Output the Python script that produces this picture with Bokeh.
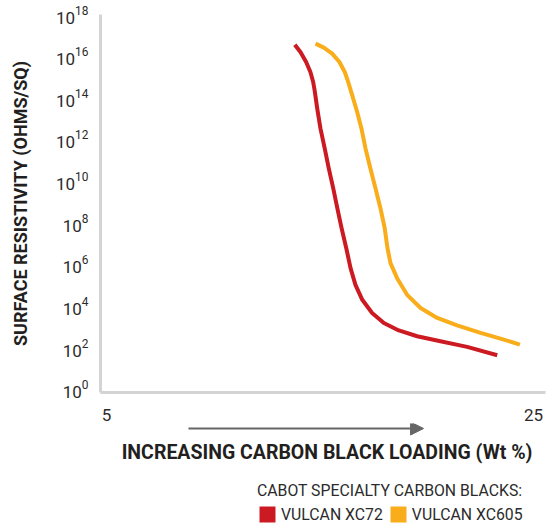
from bokeh.plotting import figure
from bokeh.layouts import column
from bokeh.models import (FixedTicker, Range1d, Arrow, NormalHead, Legend, LegendItem)
from bokeh.core.properties import value
from bokeh.embed import file_html
from bokeh.resources import INLINE

# ---- data ----
xc72_loading = [13.82, 14.09, 14.35, 14.55, 14.68, 14.76, 14.87, 15.02, 15.22, 15.41,
                15.62, 15.81, 16.01, 16.23, 16.43, 16.66, 16.98, 17.44, 17.99, 18.69,
                19.55, 20.64, 21.89, 23.30]
xc72_log_res = [16.55, 16.19, 15.72, 15.24, 14.76, 14.28, 13.48, 12.53, 11.57, 10.61,
                9.65, 8.70, 7.74, 6.78, 5.82, 5.02, 4.30, 3.67, 3.19, 2.83,
                2.55, 2.31, 2.04, 1.64]
xc605_loading = [14.79, 15.18, 15.57, 15.91, 16.16, 16.32, 16.51, 16.74, 16.94, 17.13,
                 17.36, 17.60, 17.83, 18.03, 18.16, 18.30, 18.61, 19.08, 19.71, 20.49,
                 21.42, 22.52, 23.45, 24.36]
xc605_log_res = [16.60, 16.41, 16.12, 15.72, 15.24, 14.76, 14.12, 13.32, 12.53, 11.57,
                 10.61, 9.65, 8.70, 7.74, 6.78, 6.06, 5.34, 4.54, 3.91, 3.43,
                 3.07, 2.71, 2.44, 2.15]
x_ticks = [5, 25]
y_tick_exponents = [0, 2, 4, 6, 8, 10, 12, 14, 16, 18]
series_names = ["VULCAN XC72", "VULCAN XC605"]
series_colors = ["#CC1A22", "#F9AD1A"]
x_title = "INCREASING CARBON BLACK LOADING (Wt %)"
y_title = "SURFACE RESISTIVITY (OHMS/SQ)"
legend_title = "CABOT SPECIALTY CARBON BLACKS:"

xc72_res = [10 ** v for v in xc72_log_res]
xc605_res = [10 ** v for v in xc605_log_res]

TEXT = "#2b2b2b"
DARK = "#231f20"
AXIS = "#d4d4d4"
ARROW = "#666666"
NAN = float("nan")

xr = Range1d(4.72, 25.56)

# ---- main chart ----
p = figure(width=559, height=423, y_axis_type="log",
           x_range=xr, y_range=Range1d(10 ** -0.15, 10 ** 18),
           output_backend="svg", toolbar_location=None,
           min_border_left=100, min_border_right=14, min_border_top=14, min_border_bottom=30)
p.grid.visible = False
p.outline_line_color = None

p.line(xc72_loading, xc72_res, line_color=series_colors[0], line_width=4, line_join="round")
p.line(xc605_loading, xc605_res, line_color=series_colors[1], line_width=4, line_join="round")

xa = p.xaxis[0]
xa.ticker = FixedTicker(ticks=x_ticks)
xa.axis_line_color = AXIS
xa.axis_line_width = 3
xa.major_tick_line_color = None
xa.minor_tick_line_color = None
xa.major_label_text_font = "Roboto"
xa.major_label_text_font_size = "17px"
xa.major_label_text_color = TEXT
xa.major_label_standoff = 10

ya = p.yaxis[0]
ya.ticker = FixedTicker(ticks=[10 ** e for e in y_tick_exponents])
ya.axis_line_color = AXIS
ya.axis_line_width = 3
ya.major_tick_line_color = None
ya.minor_tick_line_color = None
ya.major_label_text_font = "Roboto"
ya.major_label_text_font_size = "17px"
ya.major_label_text_color = TEXT
ya.major_label_standoff = 6
ya.axis_label = y_title
ya.axis_label_text_font = "Roboto"
ya.axis_label_text_font_style = "bold"
ya.axis_label_text_font_size = "18px"
ya.axis_label_text_color = DARK
ya.axis_label_standoff = 22

# ---- lower band: arrow, x title, legend ----
q = figure(width=559, height=101, x_range=xr, y_range=Range1d(101, 0),
           x_axis_location=None, y_axis_location=None,
           output_backend="svg", toolbar_location=None,
           min_border_left=100, min_border_right=14, min_border_top=0, min_border_bottom=0)
q.grid.visible = False
q.outline_line_color = None

q.add_layout(Arrow(end=NormalHead(size=13, fill_color=ARROW, line_color=ARROW),
                   x_start=8.84, y_start=5, x_end=19.85, y_end=5,
                   line_color=ARROW, line_width=2))

q.text(x=[15.33], y=[29], text=[x_title], text_align="center", text_baseline="middle",
       text_font=value("Roboto"), text_font_style="bold", text_font_size="19.5px",
       text_color=DARK)

# legend swatches (no visible geometry of their own)
s1 = q.quad(left=[NAN], right=[NAN], top=[NAN], bottom=[NAN],
            fill_color=series_colors[0], line_color=None)
s2 = q.quad(left=[NAN], right=[NAN], top=[NAN], bottom=[NAN],
            fill_color=series_colors[1], line_color=None)

legend = Legend(items=[LegendItem(label=series_names[0], renderers=[s1]),
                       LegendItem(label=series_names[1], renderers=[s2])],
                title=legend_title,
                orientation="horizontal", location=(157, 0),
                padding=0, margin=0, spacing=5,
                border_line_color=None, background_fill_alpha=0,
                glyph_width=20, glyph_height=20, label_height=20, label_standoff=4,
                label_text_font="Roboto", label_text_font_size="15.8px", label_text_color=TEXT,
                title_text_font="Roboto", title_text_font_size="15.8px", title_text_color=TEXT,
                title_text_font_style="normal", title_standoff=4)
q.add_layout(legend)

layout = column(p, q, spacing=0)
open("out.html", "w").write(file_html(layout, INLINE))
